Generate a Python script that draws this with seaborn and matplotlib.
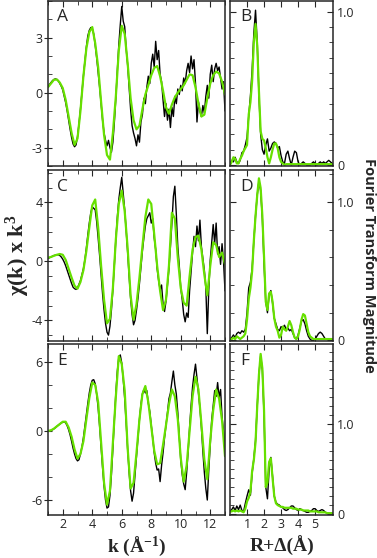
import numpy as np
import matplotlib
matplotlib.use('Agg')
import matplotlib.pyplot as plt
import seaborn as sns
from matplotlib.ticker import MultipleLocator, FixedLocator

# k-space grids (1/A) and R-space grid (A)
k_exp = np.round(np.arange(1.0, 13.001, 0.1), 1)
k_fit = np.round(np.arange(1.0, 13.001, 0.2), 1)
r_grid = np.round(np.arange(0.0, 6.001, 0.1), 1)

# ---- panel A (chi(k)*k^3, experiment / fit)
chi_a_exp = [0.3, 0.45, 0.55, 0.65, 0.72, 0.75, 0.72, 0.65, 0.5, 0.35,
             0.15, -0.2, -0.55, -1.0, -1.5, -2.0, -2.45, -2.8, -2.95, -2.85,
             -2.4, -1.7, -0.9, 0.0, 0.9, 1.7, 2.5, 3.1, 3.4, 3.55,
             3.5, 3.2, 2.6, 1.9, 1.1, 0.3, -0.6, -1.5, -2.2, -2.6,
             -2.9, -2.6, -3.0, -3.25, -2.7, -1.6, -0.3, 1.2, 2.6, 3.7,
             4.7, 3.9, 3.6, 2.4, 1.5, 0.3, -0.9, -1.8, -2.2, -2.5,
             -2.9, -2.3, -2.7, -1.6, -1.2, -0.3, -0.6, 0.3, 0.9, 0.5,
             1.6, 2.1, 1.4, 2.8, 1.8, 2.3, 1.0, 0.6, -0.4, -1.3,
             -0.6, -1.5, -0.9, -1.9, -0.8, -1.3, -0.2, -0.6, 0.2, -0.1,
             0.4, 0.1, 0.8, 0.5, 1.2, 1.6, 1.1, 2.0, 1.3, 1.8,
             0.5, -1.6, -0.5, -1.0, -1.3, -0.7, -1.1, -0.2, 0.4, -0.3,
             1.0, 1.5, 0.6, 1.3, 1.6, 1.2, 1.4, 0.8, 0.2, 0.6,
             -1.0]
chi_a_fit = [0.3, 0.5, 0.7, 0.72, 0.55, 0.25, -0.4, -1.3, -2.2, -2.85,
             -2.5, -1.0, 0.9, 2.4, 3.3, 3.58, 2.7, 1.4, -0.5, -2.3,
             -3.4, -3.65, -2.2, -0.2, 2.3, 3.65, 3.2, 1.6, -0.3, -1.5,
             -2.0, -1.8, -0.9, -0.1, 0.4, 0.95, 1.35, 1.45, 0.9, 0.1,
             -0.8, -1.15, -0.65, -0.25, 0.0, 0.2, 0.4, 0.7, 1.0, 0.95,
             0.3, -0.6, -1.3, -1.2, -0.3, 0.5, 0.95, 1.15, 1.05, 0.6,
             -0.1]

# ---- panel C
chi_c_exp = [0.2, 0.25, 0.3, 0.35, 0.4, 0.42, 0.45, 0.45, 0.4, 0.3,
             0.15, -0.05, -0.3, -0.6, -0.9, -1.2, -1.5, -1.75, -1.85, -1.9,
             -1.8, -1.55, -1.3, -0.9, -0.5, 0.1, 0.9, 1.8, 2.6, 3.3,
             3.7, 3.6, 3.5, 2.7, 1.6, 0.4, -0.9, -2.2, -3.3, -4.2,
             -4.8, -5.0, -4.4, -3.3, -1.9, -0.2, 1.5, 3.0, 4.2, 5.0,
             5.7, 4.6, 3.5, 2.1, 0.6, -1.0, -2.5, -3.6, -4.3, -4.0,
             -3.3, -2.5, -1.5, -0.4, 0.7, 1.6, 2.4, 2.9, 3.1, 3.3,
             2.6, 2.9, 1.6, 0.8, -0.5, -1.3, -1.9, -1.6, -2.9, -3.4,
             -2.7, -1.6, -0.5, 1.0, 2.6, 4.4, 5.1, 3.2, 1.0, -0.3,
             -1.8, -2.6, -3.6, -4.1, -3.5, -3.8, -2.0, -0.7, 0.6, 1.7,
             1.0, 2.4, 1.4, 2.8, 1.0, 0.2, -0.6, -1.8, -4.9, -1.9,
             0.1, 1.3, 2.5, 1.2, 2.6, 0.5, 1.0, -0.2, 1.2, 0.0,
             -2.0]
chi_c_fit = [0.25, 0.3, 0.38, 0.45, 0.5, 0.45, 0.1, -0.5, -1.1, -1.65,
             -1.85, -1.4, -0.6, 0.7, 2.3, 3.8, 4.2, 2.3, -0.3, -2.6,
             -4.2, -3.9, -1.8, 1.5, 3.9, 4.8, 3.4, 0.9, -2.3, -3.95,
             -2.9, -1.1, 1.0, 3.0, 4.2, 3.9, 1.85, -0.3, -2.0, -3.3,
             -2.6, -0.3, 3.3, 2.9, 0.25, -1.8, -2.8, -3.0, -1.0, 0.8,
             1.65, 1.75, 0.8, -0.9, -2.3, -0.3, 1.3, 1.1, 0.3, 0.6,
             -0.2]

# ---- panel E
chi_e_exp = [0.0, 0.02, 0.05, 0.1, 0.18, 0.28, 0.4, 0.5, 0.6, 0.7,
             0.75, 0.78, 0.7, 0.45, 0.1, -0.35, -0.9, -1.5, -2.0, -2.4,
             -2.6, -2.5, -2.0, -1.4, -0.6, 0.4, 1.4, 2.4, 3.3, 4.0,
             4.4, 4.45, 4.1, 3.2, 2.0, 0.4, -1.4, -3.2, -4.8, -6.0,
             -6.7, -6.6, -5.6, -3.8, -1.5, 1.0, 3.3, 5.2, 6.4, 6.6,
             5.9, 4.5, 2.8, 0.7, -1.6, -3.6, -5.2, -6.1, -5.4, -3.8,
             -2.2, -0.6, 1.0, 2.3, 3.2, 3.6, 3.3, 3.5, 2.4, 1.7,
             0.5, -0.6, -1.9, -2.8, -3.4, -3.3, -4.4, -3.0, -1.9, -0.6,
             0.5, 1.6, 2.8, 3.3, 4.3, 5.2, 4.0, 3.2, 1.6, -0.5,
             -2.5, -3.8, -4.6, -5.1, -3.6, -1.8, 0.3, 2.2, 3.8, 4.9,
             5.8, 4.6, 3.3, 2.0, 0.3, -1.8, -3.6, -5.0, -6.0, -3.4,
             -1.2, 1.0, 2.2, 3.5, 3.0, 4.2, 2.9, 3.6, 1.2, 0.0,
             -1.8]
chi_e_fit = [0.0, 0.05, 0.2, 0.4, 0.6, 0.8, 0.8, 0.3, -0.5, -1.6,
             -2.4, -2.0, -0.9, 1.0, 2.85, 4.2, 4.0, 2.5, -1.0, -4.5,
             -6.4, -5.2, -1.0, 3.0, 6.5, 5.8, 3.5, -1.5, -5.0, -4.5,
             -1.9, 1.0, 3.2, 3.9, 2.5, 0.4, -1.7, -2.9, -2.8, -1.2,
             0.5, 2.3, 3.6, 3.0, 1.0, -2.35, -4.4, -3.0, 0.0, 3.0,
             4.7, 3.6, 0.6, -2.5, -4.2, -0.8, 1.8, 3.6, 2.8, 0.9,
             -2.2]

# ---- Fourier transform magnitudes, panels B, D, F
ft_b_exp = [0.0, 0.03, 0.02, 0.05, 0.02, 0.01, 0.03, 0.08, 0.09, 0.13,
            0.18, 0.32, 0.45, 0.62, 0.86, 1.01, 0.8, 0.45, 0.2, 0.1,
            0.07, 0.13, 0.17, 0.09, 0.11, 0.14, 0.15, 0.14, 0.11, 0.12,
            0.06, 0.02, 0.01, 0.07, 0.09, 0.04, 0.0, 0.05, 0.09, 0.08,
            0.02, 0.0, 0.01, 0.02, 0.01, 0.0, 0.0, 0.0, 0.01, 0.02,
            0.01, 0.0, 0.01, 0.02, 0.01, 0.02, 0.01, 0.02, 0.03, 0.02,
            0.01]
ft_b_fit = [0.0, 0.02, 0.05, 0.04, 0.01, 0.01, 0.04, 0.06, 0.09, 0.11,
            0.13, 0.33, 0.41, 0.55, 0.8, 0.92, 0.78, 0.48, 0.22, 0.17,
            0.16, 0.11, 0.05, 0.01, 0.05, 0.1, 0.14, 0.14, 0.11, 0.05,
            0.02, 0.01, 0.0, 0.005, 0.005, 0.005, 0.005, 0.005, 0.005, 0.005,
            0.005, 0.005, 0.005, 0.005, 0.005, 0.005, 0.005, 0.005, 0.005, 0.005,
            0.005, 0.005, 0.005, 0.005, 0.005, 0.005, 0.005, 0.005, 0.005, 0.005,
            0.005]
ft_d_exp = [0.01, 0.02, 0.04, 0.02, 0.05, 0.06, 0.05, 0.07, 0.06, 0.08,
            0.2, 0.38, 0.42, 0.52, 0.72, 0.9, 1.05, 1.15, 1.08, 0.88,
            0.55, 0.28, 0.2, 0.33, 0.36, 0.27, 0.16, 0.12, 0.08, 0.07,
            0.1, 0.09, 0.11, 0.08, 0.09, 0.07, 0.08, 0.05, 0.02, 0.01,
            0.04, 0.09, 0.14, 0.15, 0.12, 0.07, 0.03, 0.01, 0.0, 0.0,
            0.01, 0.03, 0.05, 0.06, 0.05, 0.03, 0.01, 0.01, 0.01, 0.01,
            0.0]
ft_d_fit = [0.01, 0.01, 0.02, 0.01, 0.03, 0.02, 0.01, 0.02, 0.03, 0.05,
            0.15, 0.3, 0.38, 0.5, 0.72, 0.9, 1.05, 1.17, 1.1, 0.9,
            0.6, 0.28, 0.22, 0.34, 0.35, 0.28, 0.16, 0.1, 0.07, 0.02,
            0.04, 0.1, 0.08, 0.07, 0.1, 0.14, 0.11, 0.06, 0.02, 0.01,
            0.03, 0.08, 0.15, 0.19, 0.18, 0.12, 0.06, 0.03, 0.02, 0.01,
            0.01, 0.01, 0.01, 0.01, 0.01, 0.01, 0.01, 0.01, 0.01, 0.01,
            0.01]
ft_f_exp = [0.03, 0.05, 0.08, 0.04, 0.09, 0.05, 0.1, 0.04, 0.03, 0.12,
            0.2, 0.27, 0.21, 0.45, 0.62, 0.82, 1.2, 1.55, 1.76, 1.6,
            1.1, 0.3, 0.17, 0.5, 0.63, 0.42, 0.2, 0.13, 0.11, 0.1,
            0.08, 0.07, 0.05, 0.04, 0.05, 0.07, 0.09, 0.09, 0.07, 0.05,
            0.04, 0.06, 0.05, 0.04, 0.03, 0.02, 0.02, 0.03, 0.04, 0.06,
            0.06, 0.04, 0.03, 0.04, 0.05, 0.04, 0.02, 0.01, 0.01, 0.01,
            0.01]
ft_f_fit = [0.03, 0.03, 0.04, 0.03, 0.04, 0.03, 0.04, 0.03, 0.02, 0.06,
            0.14, 0.18, 0.25, 0.48, 0.6, 0.8, 1.2, 1.55, 1.78, 1.62,
            1.15, 0.3, 0.35, 0.58, 0.62, 0.4, 0.2, 0.12, 0.1, 0.09,
            0.08, 0.08, 0.07, 0.07, 0.07, 0.07, 0.07, 0.06, 0.06, 0.06,
            0.05, 0.05, 0.05, 0.04, 0.04, 0.04, 0.04, 0.03, 0.03, 0.03,
            0.03, 0.03, 0.02, 0.02, 0.02, 0.02, 0.02, 0.01, 0.01, 0.01,
            0.01]

panel_letters = ['A', 'B', 'C', 'D', 'E', 'F']
k_ticks = [2, 4, 6, 8, 10, 12]
r_ticks = [1, 2, 3, 4, 5]

EXP_COLOR = 'black'
FIT_COLOR = '#66e000'

sns.set_style('ticks')
plt.rcParams['font.family'] = ['Open Sans', 'DejaVu Sans']
plt.rcParams['axes.unicode_minus'] = False
plt.rcParams['mathtext.fontset'] = 'custom'
plt.rcParams['mathtext.rm'] = 'Liberation Serif:bold'
plt.rcParams['mathtext.it'] = 'Liberation Serif:bold'
plt.rcParams['mathtext.bf'] = 'Liberation Serif:bold'

fig = plt.figure(figsize=(3.77, 5.58), dpi=100)

W, H = 377.0, 558.0
rows = [(1, 166), (170, 341), (344, 515)]  # pixel top/bottom of each row
left_x = (48, 225)
right_x = (230, 333)


def make_ax(xpx, ypx):
    x0, x1 = xpx
    y0, y1 = ypx
    return fig.add_axes([x0 / W, 1 - y1 / H, (x1 - x0) / W, (y1 - y0) / H])


k_panels = [
    (chi_a_exp, chi_a_fit, (-4.0, 5.0), [-3, 0, 3], 1),
    (chi_c_exp, chi_c_fit, (-5.4, 6.2), [-4, 0, 4], 1),
    (chi_e_exp, chi_e_fit, (-7.3, 7.55), [-6, 0, 6], 2),
]
r_panels = [
    (ft_b_exp, ft_b_fit, (-0.007, 1.07), 0.1),
    (ft_d_exp, ft_d_fit, (-0.004, 1.23), 0.2),
    (ft_f_exp, ft_f_fit, (-0.01, 1.89), 0.1),
]

for i in range(3):
    # left column: k-space
    ax = make_ax(left_x, rows[i])
    exp, fit, ylim, yt, ymin = k_panels[i]
    sns.lineplot(x=k_exp, y=exp, ax=ax, color=EXP_COLOR, lw=1.0)
    sns.lineplot(x=k_fit, y=fit, ax=ax, color=FIT_COLOR, lw=1.6)
    ax.set_xlim(1.0, 13.0)
    ax.set_ylim(*ylim)
    ax.xaxis.set_major_locator(FixedLocator(k_ticks))
    ax.xaxis.set_minor_locator(MultipleLocator(1))
    ax.yaxis.set_major_locator(FixedLocator(yt))
    ax.yaxis.set_minor_locator(MultipleLocator(ymin))
    ax.tick_params(axis='x', which='both', direction='in', top=True, bottom=True,
                   labelbottom=(i == 2), labelsize=9, pad=2)
    ax.tick_params(axis='x', which='major', length=4)
    ax.tick_params(axis='x', which='minor', length=3)
    ax.tick_params(axis='y', which='major', direction='inout', length=6, labelsize=9, pad=1)
    ax.tick_params(axis='y', which='minor', direction='in', length=3)
    ax.set_xlabel('')
    ax.set_ylabel('')
    ax.text(0.05, 0.95, panel_letters[2 * i], transform=ax.transAxes,
            fontsize=12.5, va='top', ha='left')
    for s in ax.spines.values():
        s.set_linewidth(1.1)

    # right column: R-space
    ax = make_ax(right_x, rows[i])
    exp, fit, ylim, ymin = r_panels[i]
    sns.lineplot(x=r_grid, y=exp, ax=ax, color=EXP_COLOR, lw=1.0)
    sns.lineplot(x=r_grid, y=fit, ax=ax, color=FIT_COLOR, lw=1.6)
    ax.set_xlim(0.0, 6.05)
    ax.set_ylim(*ylim)
    ax.xaxis.set_major_locator(FixedLocator(r_ticks))
    ax.yaxis.set_major_locator(FixedLocator([0, 1.0]))
    ax.yaxis.set_major_formatter(matplotlib.ticker.FixedFormatter(['0', '1.0']))
    ax.yaxis.set_minor_locator(MultipleLocator(ymin))
    ax.tick_params(axis='x', which='both', direction='in', top=True, bottom=True,
                   labelbottom=(i == 2), labelsize=9, pad=2, length=4)
    ax.tick_params(axis='y', which='both', direction='in', left=True, right=True,
                   labelleft=False, labelright=True, labelsize=9, pad=3)
    ax.tick_params(axis='y', which='major', length=4)
    ax.tick_params(axis='y', which='minor', length=3)
    ax.set_xlabel('')
    ax.set_ylabel('')
    ax.text(0.1, 0.95, panel_letters[2 * i + 1], transform=ax.transAxes,
            fontsize=12.5, va='top', ha='left')
    for s in ax.spines.values():
        s.set_linewidth(1.1)

serif = dict(family='Liberation Serif', fontweight='bold')
fig.text(18 / W, 1 - 255 / H, r'χ(k) x k$^{3}$', rotation=90, ha='center',
         va='center', fontsize=16, **serif)
fig.text(136.5 / W, 1 - 546 / H, r'k (Å$^{-1}$)', ha='center', va='center',
         fontsize=14, **serif)
fig.text(282 / W, 1 - 546 / H, 'R+Δ(Å)', ha='center', va='center',
         fontsize=14, **serif)
fig.text(369 / W, 1 - 265 / H, 'Fourier Transform Magnitude', rotation=270,
         ha='center', va='center', fontsize=10.5, fontweight='bold')

fig.savefig('out.png', dpi=100)
